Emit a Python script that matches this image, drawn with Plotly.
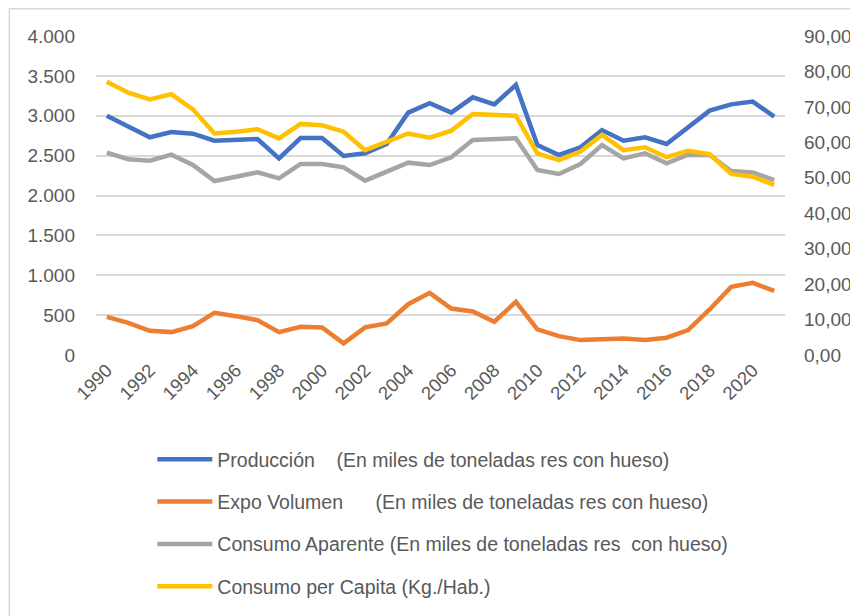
import plotly.graph_objects as go

years = list(range(1990, 2022))
produccion = [3000, 2863, 2730, 2796, 2775, 2687, 2696, 2708, 2466, 2721, 2721, 2495, 2529, 2646, 3039, 3156,
              3039, 3231, 3143, 3386, 2633, 2508, 2604, 2821, 2687, 2730, 2646, 2855, 3064, 3143, 3177, 2989]
expo = [479, 404, 304, 287, 362, 529, 487, 437, 287, 354, 346, 146, 346, 396, 637, 779,
        583, 546, 417, 667, 321, 237, 187, 204, 208, 187, 217, 312, 571, 854, 904, 804]
aparente = [2537, 2453, 2437, 2512, 2382, 2182, 2236, 2290, 2215, 2395, 2395, 2353, 2186, 2299, 2412, 2382,
            2479, 2696, 2708, 2717, 2320, 2270, 2395, 2633, 2466, 2529, 2404, 2512, 2508, 2307, 2290, 2194]
per_capita = [77.1, 74.0, 72.1, 73.6, 69.3, 62.5, 63.0, 63.7, 61.1, 65.2, 64.8, 63.0, 57.8, 60.0, 62.5, 61.3,
              63.3, 68.0, 67.8, 67.5, 56.9, 55.0, 57.4, 62.1, 57.8, 58.6, 55.8, 57.6, 56.7, 51.1, 50.3, 48.0]

names = ["Producción    (En miles de toneladas res con hueso)",
         "Expo Volumen      (En miles de toneladas res con hueso)",
         "Consumo Aparente (En miles de toneladas res  con hueso)",
         "Consumo per Capita (Kg./Hab.)"]
colors = ["#4472C4", "#ED7D31", "#A5A5A5", "#FFC000"]
x_ticks = list(range(1990, 2021, 2))

FONT = "Liberation Sans, Arial, sans-serif"
TXT = "#595959"

def keep_spaces(s):
    return s.replace("  ", "\u00a0 ")

fig = go.Figure()
series = [(produccion, "y"), (expo, "y"), (aparente, "y"), (per_capita, "y2")]
for i, (vals, ax) in enumerate(series):
    fig.add_trace(go.Scatter(
        x=years, y=vals, name=keep_spaces(names[i]),
        mode="lines", line=dict(color=colors[i], width=4.5),
        yaxis=ax, legendgroup=f"g{i}", hoverinfo="x+y"))

# page has an 8px body margin: figure is drawn offset by 8px
OFF = 8
W, H = 850, 608
pw, ph = 689, 319
L, T = 95.7 - OFF, 36 - OFF
R = W - L - pw
B = H - T - ph

def px_x(p):  # screen pixel -> paper x
    return (p - OFF - L) / pw

def px_y(p):  # screen pixel -> paper y
    return (H - B - (p - OFF)) / ph

fig.update_layout(
    width=W, height=H,
    margin=dict(l=L, r=R, t=T, b=B, pad=0, autoexpand=False),
    paper_bgcolor="white", plot_bgcolor="white",
    separators=",.",
    font=dict(family=FONT, color=TXT, size=19),
    showlegend=True,
    legend=dict(x=px_x(152), y=px_y(440), xanchor="left", yanchor="top",
                orientation="v", font=dict(family=FONT, size=19.5, color=TXT),
                tracegroupgap=14, itemwidth=55, bgcolor="rgba(0,0,0,0)"),
    xaxis=dict(range=[1989.5, 2021.5], tickmode="array", tickvals=x_ticks,
               ticktext=[str(v) for v in x_ticks], tickangle=-45, showgrid=False,
               zeroline=False, showline=False, ticks="", automargin=False,
               tickfont=dict(family=FONT, size=18.5, color=TXT)),
    yaxis=dict(range=[0, 4000], dtick=500, tick0=0, tickformat=",d", automargin=False,
               showgrid=True, gridcolor="#D9D9D9", gridwidth=1.5, zeroline=False,
               showline=False, ticks="", ticklabelstandoff=20,
               tickfont=dict(family=FONT, size=19, color=TXT)),
    yaxis2=dict(range=[0, 90], dtick=10, tick0=0, tickformat=".2f", overlaying="y",
                side="right", showgrid=False, zeroline=False, showline=False,
                ticks="", ticklabelstandoff=18, automargin=False,
                tickfont=dict(family=FONT, size=19, color=TXT)),
    shapes=[
        dict(type="line", xref="paper", yref="paper", x0=px_x(9), x1=px_x(900),
             y0=px_y(8.8), y1=px_y(8.8), line=dict(color="#D9D9D9", width=1.5)),
        dict(type="line", xref="paper", yref="paper", x0=px_x(9), x1=px_x(9),
             y0=px_y(8.8), y1=px_y(700), line=dict(color="#D9D9D9", width=1.5)),
    ],
)

fig.write_html("out.html")
